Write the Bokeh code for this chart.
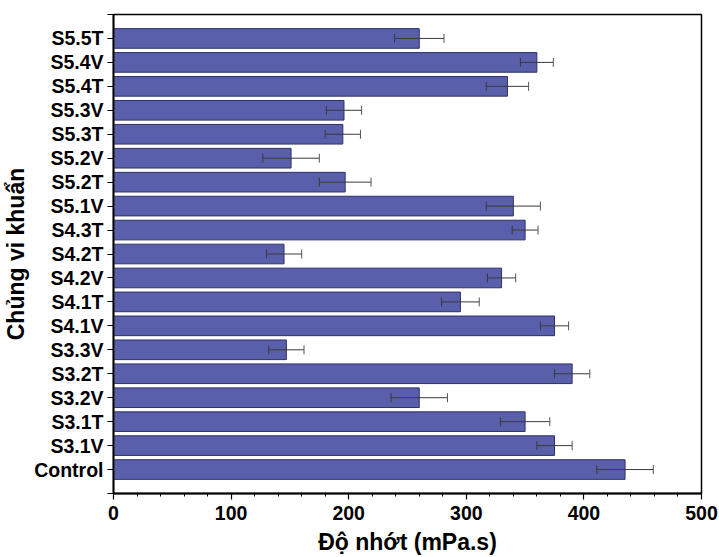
from bokeh.plotting import figure
from bokeh.models import ColumnDataSource, Whisker, TeeHead, FixedTicker, SingleIntervalTicker, Range1d
from bokeh.embed import file_html
from bokeh.resources import INLINE

strains = ["Control", "S3.1V", "S3.1T", "S3.2V", "S3.2T", "S3.3V", "S4.1V", "S4.1T",
           "S4.2V", "S4.2T", "S4.3T", "S5.1V", "S5.2T", "S5.2V", "S5.3T", "S5.3V",
           "S5.4T", "S5.4V", "S5.5T"]
viscosity = [435, 375, 350, 260, 390, 147, 375, 295, 330, 145, 350, 340, 197, 151,
             195, 196, 335, 360, 260]
errors = [24, 15, 21, 24, 15, 15, 12, 16, 12, 15, 11, 23, 22, 24, 15, 15, 18, 14, 21]

pos = list(range(1, len(strains) + 1))
src = ColumnDataSource(dict(
    y=pos, val=viscosity,
    lower=[v - e for v, e in zip(viscosity, errors)],
    upper=[v + e for v, e in zip(viscosity, errors)],
))

FONT = "Liberation Sans"

p = figure(width=719, height=557, output_backend="svg", toolbar_location=None,
           x_range=Range1d(0, 500), y_range=Range1d(0, len(strains) + 1),
           min_border_left=113, min_border_right=18, min_border_top=14, min_border_bottom=64)

p.hbar(y="y", left=0, right="val", height=0.82, source=src,
       fill_color="#5A5FAC", line_color="#2E3068", line_width=1)

w = Whisker(source=src, base="y", lower="lower", upper="upper", dimension="width",
            line_color="#3a3a3a", line_width=1, level="overlay",
            lower_head=TeeHead(size=9, line_color="#3a3a3a", line_width=1),
            upper_head=TeeHead(size=9, line_color="#555555", line_width=1))
p.add_layout(w)

p.xgrid.visible = False
p.ygrid.visible = False
p.outline_line_color = "black"
p.outline_line_width = 1.5
p.background_fill_color = "white"

p.xaxis.ticker = SingleIntervalTicker(interval=100, num_minor_ticks=5)
p.yaxis.ticker = FixedTicker(ticks=list(range(0, len(strains) + 2)), minor_ticks=[])
overrides = {i: "" for i in range(0, len(strains) + 2)}
for i, s in zip(pos, strains):
    overrides[i] = s
p.yaxis.major_label_overrides = overrides

for ax in (p.xaxis[0], p.yaxis[0]):
    ax.axis_line_color = "black"
    ax.axis_line_width = 1.8
    ax.major_tick_line_color = "black"
    ax.major_tick_line_width = 1.2
    ax.major_tick_out = 6
    ax.major_tick_in = 0
    ax.minor_tick_line_color = "black"
    ax.minor_tick_out = 3
    ax.minor_tick_in = 0
    ax.major_label_text_font = FONT
    ax.major_label_text_font_style = "bold"
    ax.major_label_text_font_size = "19.5px"
    ax.major_label_text_color = "black"
    ax.axis_label_text_font = FONT
    ax.axis_label_text_font_style = "bold"
    ax.axis_label_text_font_size = "23px"
    ax.axis_label_text_color = "black"

p.xaxis.axis_label = "Độ nhớt (mPa.s)"
p.yaxis.axis_label = "Chủng vi khuẩn"
p.xaxis.major_label_standoff = 6
p.yaxis.major_label_standoff = 4
p.xaxis.axis_label_standoff = 6
p.yaxis.axis_label_standoff = 2

open("out.html", "w").write(file_html(p, INLINE))
